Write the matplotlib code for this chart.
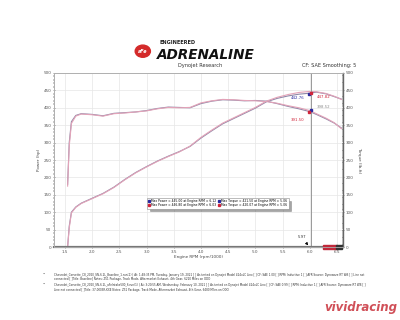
import numpy as np
import matplotlib.pyplot as plt
from matplotlib.patches import Circle, Rectangle
from matplotlib.ticker import MultipleLocator

# run 1 (baseline, blue) and run 2 (aFe, red)
rpm = [1.55, 1.58, 1.62, 1.70, 1.80, 2.00, 2.20, 2.40, 2.60, 2.80, 3.00, 3.20, 3.40,
       3.60, 3.80, 4.00, 4.20, 4.40, 4.60, 4.80, 5.00, 5.20, 5.40, 5.60, 5.80,
       6.00, 6.12, 6.30, 6.45, 6.58]
power1 = [0, 60, 100, 115, 126, 140, 154, 172, 194, 214, 231, 247, 261,
          274, 289, 313, 334, 354, 369, 384, 399, 417, 427, 434, 439,
          442, 445, 440, 432, 425]
power2 = [0, 55, 98, 114, 125, 139, 153, 171, 193, 213, 230, 246, 260,
          273, 290, 315, 336, 356, 371, 386, 401, 419, 430, 438, 444,
          447, 446, 441, 433, 424]
torque1 = [180, 300, 360, 378, 383, 381, 377, 384, 386, 388, 392, 398, 402,
           401, 400, 412, 419, 423, 422, 420, 421, 419, 412, 404, 397,
           389, 381, 368, 356, 342]
torque2 = [175, 290, 355, 376, 382, 380, 376, 383, 385, 388, 391, 397, 401,
           400, 401, 414, 420, 424, 423, 421, 420, 418, 413, 406, 400,
           392, 383, 370, 357, 340]

cursor_rpm = 6.02
cursor_power = [442.76, 447.82]
cursor_torque = [391.50, 398.52]

legend_power = ["Max Power = 445.00 at Engine RPM = 6.12",
                "Max Power = 446.80 at Engine RPM = 6.03"]
legend_torque = ["Max Torque = 421.50 at Engine RPM = 5.06",
                 "Max Torque = 420.07 at Engine RPM = 5.06"]

footer = [
    "Chevrolet_Corvette_C8_2020_SN-6.2L_Baseline_1.run(1) | At: 1:48:35 PM, Tuesday, January 19, 2021 [ ] As tested on Dynojet Model 424xLC Linx [ ] CF: SAE 1.00 [ ] RPM: Inductive 1 [ ] AFR Source: Dynoware RT WB [ ] Line not\nconnected [ ]Title: Baseline] Notes: Z51 Package, Track Mode, Aftermarket Exhaust, 4th Gear, 6220 Miles on ODO",
    "Chevrolet_Corvette_C8_2020_SN-6.2L_aFeIntake500_6.run(1) | At: 3:20:55 AM, Wednesday, February 10, 2021 [ ] As tested on Dynojet Model 424xLC Linx [ ] CF: SAE 0.99 [ ] RPM: Inductive 1 [ ] AFR Source: Dynoware RT WB [ ]\nLine not connected [ ]Title: 37-0003R-KXE Notes: Z51 Package, Track Mode, Aftermarket Exhaust, 4th Gear, 6480 Miles on ODO",
]

c1 = "#8f88a8"
c2 = "#e3a3b8"
blue = "#2a2aa0"
red = "#d0243a"

fig = plt.figure(figsize=(4, 3.2), dpi=100)
ax = fig.add_axes([0.135, 0.228, 0.7225, 0.544])
ax2 = ax.twinx()

ax.plot(rpm, power1, color=c1, lw=0.8)
ax.plot(rpm, power2, color=c2, lw=0.8)
ax2.plot(rpm, torque1, color=c1, lw=0.8)
ax2.plot(rpm, torque2, color=c2, lw=0.8)

ax.set_xlim(1.3, 6.61)
ax.set_ylim(0, 500)
ax2.set_ylim(0, 500)

ax.yaxis.set_major_locator(MultipleLocator(50))
ax.yaxis.set_minor_locator(MultipleLocator(10))
ax2.yaxis.set_major_locator(MultipleLocator(50))
ax2.yaxis.set_minor_locator(MultipleLocator(5))
ax.xaxis.set_minor_locator(MultipleLocator(0.1))
ax.set_xticks(np.arange(1.5, 6.51, 0.5))
ax.set_xticklabels([f"{v:.1f}" for v in np.arange(1.5, 6.51, 0.5)])

ax.grid(True, color="#e6e6e6", lw=0.5)
for a in (ax, ax2):
    a.tick_params(labelsize=3, colors="#555555", length=2, width=0.4, direction="inout", pad=1)
    a.tick_params(which="minor", length=1.2, width=0.3, direction="inout")
    for s in a.spines.values():
        s.set_color("#b0b0b0")
        s.set_linewidth(0.6)
ax.spines["bottom"].set_color("#777777")
ax.spines["bottom"].set_linewidth(1.6)
ax2.spines["right"].set_color("#666666")
ax2.spines["right"].set_linewidth(1.0)

ax.set_xlabel("Engine RPM (rpm/1000)", fontsize=3, color="#444444", labelpad=1)
ax.set_ylabel("Power (hp)", fontsize=3, color="#444444", labelpad=2)
ax2.set_ylabel("Torque (lb-ft)", fontsize=3, color="#444444", rotation=270, labelpad=5)

# cursor
ax.axvline(cursor_rpm, color="#999999", lw=0.7)
ax.plot(cursor_rpm - 0.04, cursor_power[0] - 4, "s", color=blue, ms=1.8)
ax.plot(cursor_rpm, cursor_power[1] - 4, "s", color=red, ms=1.8)
ax2.plot(cursor_rpm, cursor_torque[0] + 2, "s", color=blue, ms=1.8)
ax2.plot(cursor_rpm - 0.04, cursor_torque[0] - 4, "s", color=red, ms=1.8)
ax.text(cursor_rpm - 0.12, cursor_power[0] - 18, f"{cursor_power[0]:.2f}", color=blue,
        fontsize=2.8, ha="right")
ax.text(cursor_rpm + 0.1, cursor_power[1] - 20, f"{cursor_power[1]:.2f}", color=red,
        fontsize=2.8, ha="left")
ax2.text(cursor_rpm + 0.1, cursor_torque[1] + 1, f"{cursor_torque[1]:.2f}", color="#8a8a8a",
         fontsize=2.8, ha="left")
ax2.text(cursor_rpm - 0.12, cursor_torque[0] - 30, f"{cursor_torque[0]:.2f}", color=red,
         fontsize=2.8, ha="right")
ax.annotate("5.97", xy=(cursor_rpm - 0.05, 5), xytext=(cursor_rpm - 0.25, 25),
            fontsize=2.8, color="#333333",
            arrowprops=dict(arrowstyle="-|>", color="black", lw=0.5, mutation_scale=4))
ax.add_patch(Rectangle((0.93, -0.01), 0.05, 0.022, transform=ax.transAxes,
                       color="#c0283a", clip_on=False, zorder=5))
ax.add_patch(Rectangle((0.975, -0.01), 0.02, 0.022, transform=ax.transAxes,
                       color="#333333", clip_on=False, zorder=5))

# legend box
h = [plt.Line2D([], [], ls="", marker="s", color=blue, ms=1.4),
     plt.Line2D([], [], ls="", marker="s", color=red, ms=1.4)]
leg = ax.legend(h + h, legend_power + legend_torque, ncol=2, fontsize=2.2,
                loc="center", bbox_to_anchor=(0.567, 0.252), frameon=True,
                fancybox=False, shadow=True, handlelength=0.5, handletextpad=0.4,
                columnspacing=0.8, borderpad=0.35, labelspacing=0.2)
leg.get_frame().set_edgecolor("#888888")
leg.get_frame().set_linewidth(0.4)

# header
fig.add_artist(Circle((0.357, 0.84), 0.019, transform=fig.transFigure, color="#d42a2a"))
fig.text(0.357, 0.84, "aFe", fontsize=3.5, color="white", weight="bold",
         ha="center", va="center", style="italic")
fig.text(0.398, 0.866, "ENGINEERED", fontsize=3.6, weight="bold", color="#222222",
         va="center")
fig.text(0.392, 0.829, "ADRENALINE", fontsize=9.8, weight="heavy", style="italic",
         color="#111111", va="center")
fig.text(0.5, 0.792, "Dynojet Research", fontsize=3.6, color="#333333", ha="center")
fig.text(0.89, 0.792, "CF: SAE Smoothing: 5", fontsize=3.6, color="#333333", ha="right")

# footer
for i, line in enumerate(footer):
    y = 0.148 - i * 0.033
    fig.text(0.105, y, "\u2022", fontsize=2.6, color="#333333", va="top")
    fig.text(0.135, y, line, fontsize=2.0, color="#333333", va="top", linespacing=1.2)

fig.text(0.993, 0.02, "vividracing", fontsize=8.5, weight="bold", style="italic",
         color="#c8313b", ha="right", va="bottom", alpha=0.85)

fig.savefig("out.png", dpi=100, facecolor="white")
